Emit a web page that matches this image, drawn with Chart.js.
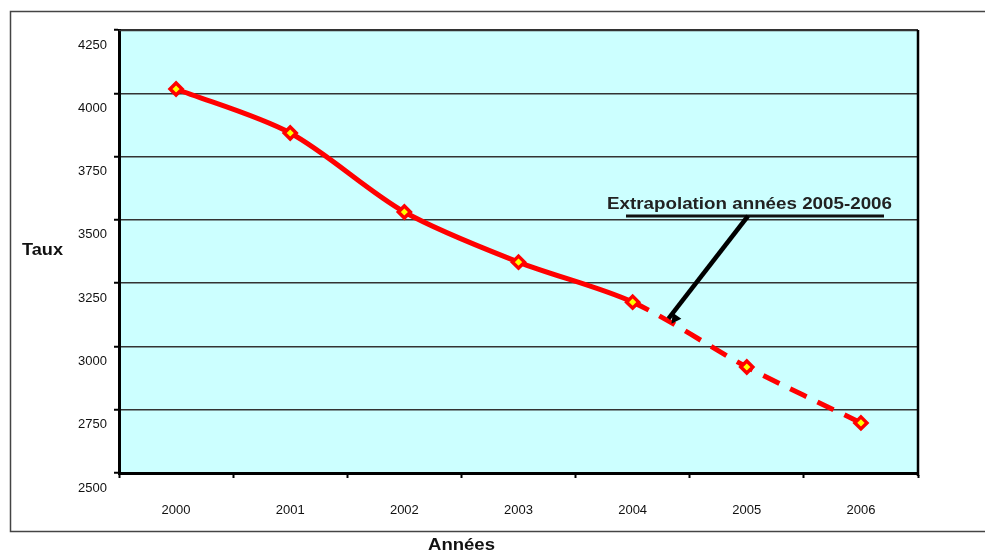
<!DOCTYPE html>
<html>
<head>
<meta charset="utf-8">
<script src="https://cdn.jsdelivr.net/npm/chart.js@4/dist/chart.umd.min.js"></script>
<style>
  html, body { margin:0; padding:0; background:#fff; }
  #wrap { width:985px; height:555px; position:relative; }
</style>
</head>
<body>
<div id="wrap"><canvas id="tauxChart" width="985" height="555"></canvas></div>
<script>
// values
const years = ["2000","2001","2002","2003","2004","2005","2006"];
const taux = [4017, 3843, 3531, 3333, 3175, 2919, 2698];
const yTicks = [2500, 2750, 3000, 3250, 3500, 3750, 4000, 4250];
const firstExtrapolated = 4; // segments from 2004 onward are dashed
const noteText = "Extrapolation années 2005-2006";

const FONT = "'Liberation Sans', Arial, sans-serif";

// draw text squeezed/stretched to a given width
function fitText(c, txt, x, y, w) {
  const m = c.measureText(txt).width;
  c.save();
  c.translate(x, y);
  c.scale(w / m, 1);
  c.fillText(txt, 0, 0);
  c.restore();
}

// frame, titles, annotation arrow
const decor = {
  id: 'decor',
  beforeDraw(chart) {
    const c = chart.ctx, a = chart.chartArea;
    c.save();
    c.fillStyle = '#ccffff';
    c.fillRect(a.left, a.top, a.right - a.left, a.bottom - a.top);
    c.strokeStyle = '#444';
    c.lineWidth = 1.5;
    c.strokeRect(10.5, 11.5, 1000, 520);
    c.restore();
  },
  afterDraw(chart) {
    const c = chart.ctx, a = chart.chartArea;
    const xs = chart.scales.x, ys = chart.scales.y;
    c.save();
    // plot border top / right
    c.strokeStyle = '#333';
    c.lineWidth = 1.5;
    c.beginPath(); c.moveTo(a.left, a.top + 0.5); c.lineTo(a.right, a.top + 0.5); c.stroke();
    c.strokeStyle = '#000';
    c.lineWidth = 2.5;
    c.beginPath(); c.moveTo(a.right, a.top); c.lineTo(a.right, a.bottom + 3); c.stroke();

    c.fillStyle = '#111';
    c.font = 'bold 17px ' + FONT;
    c.textBaseline = 'middle';
    c.textAlign = 'left';
    fitText(c, 'Taux', 22, 250, 41);
    fitText(c, 'Années', 428, 545, 67);

    // annotation
    c.font = 'bold 17px ' + FONT;
    c.fillStyle = '#222';
    fitText(c, noteText, 607, 204, 285);
    c.strokeStyle = '#111';
    c.lineWidth = 3;
    c.beginPath(); c.moveTo(626, 216); c.lineTo(884, 216); c.stroke();

    const sx = 748, sy = 216;
    const tx = xs.getPixelForValue(4.34), ty = ys.getPixelForValue(3090);
    c.strokeStyle = '#000';
    c.lineWidth = 4.5;
    c.beginPath(); c.moveTo(sx, sy); c.lineTo(tx - 3, ty - 5); c.stroke();
    const ang = Math.atan2(ty - sy, tx - sx);
    c.fillStyle = '#000';
    c.beginPath();
    c.moveTo(tx, ty);
    c.lineTo(tx - 11 * Math.cos(ang - 0.5), ty - 11 * Math.sin(ang - 0.5));
    c.lineTo(tx - 11 * Math.cos(ang + 0.5), ty - 11 * Math.sin(ang + 0.5));
    c.closePath(); c.fill();
    c.restore();
  }
};

new Chart(document.getElementById('tauxChart'), {
  type: 'line',
  data: {
    labels: years,
    datasets: [{
      label: 'Taux',
      data: taux,
      borderColor: '#ff0000',
      borderWidth: 5,
      tension: 0.3,
      pointStyle: 'rectRot',
      pointRadius: 6,
      pointBorderWidth: 3.5,
      pointBorderColor: '#ff0000',
      pointBackgroundColor: '#ffff00',
      segment: {
        borderDash: ctx => ctx.p0DataIndex >= firstExtrapolated ? [18, 12] : undefined
      }
    }]
  },
  options: {
    responsive: false,
    animation: false,
    layout: { padding: { top: 30, right: 67, left: 0, bottom: 0 } },
    plugins: { legend: { display: false }, tooltip: { enabled: false } },
    scales: {
      x: {
        offset: true,
        grid: { offset: true, drawOnChartArea: false, color: '#000', tickLength: 5, tickWidth: 2 },
        border: { color: '#000', width: 3 },
        ticks: { color: '#111', font: { family: FONT, size: 13 }, padding: 25, maxRotation: 0 },
        afterFit(s) { s.height = 82; }
      },
      y: {
        min: 2500, max: 4250,
        afterBuildTicks(s) { s.ticks = yTicks.map(v => ({ value: v })); },
        grid: { color: '#333', lineWidth: 1.5, tickLength: 5, tickColor: '#000', tickWidth: 2 },
        border: { color: '#000', width: 3 },
        ticks: { color: '#111', font: { family: FONT, size: 13 }, labelOffset: 15, padding: 7,
                 callback: v => String(v) },
        afterFit(s) { s.width = 119; }
      }
    }
  },
  plugins: [decor]
});
</script>
</body>
</html>
